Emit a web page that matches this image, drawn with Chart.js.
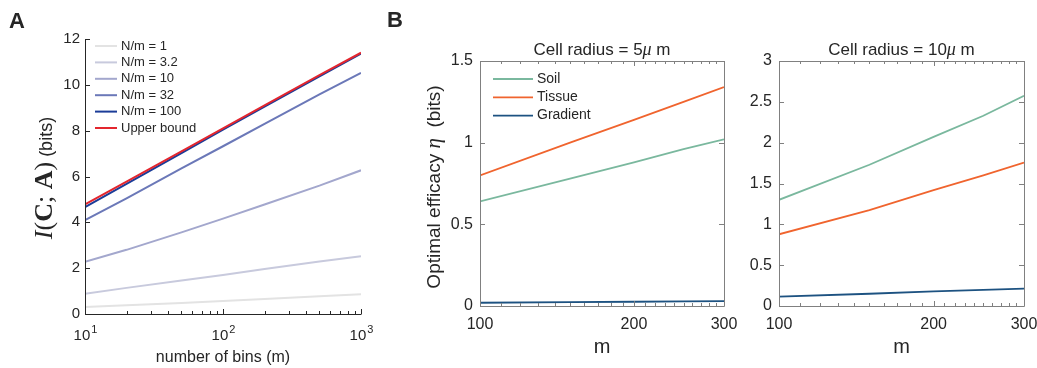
<!DOCTYPE html>
<html>
<head>
<meta charset="utf-8">
<script src="https://cdn.jsdelivr.net/npm/chart.js@4.4.0/dist/chart.umd.min.js"></script>
<style>
    body { margin: 0; background: #fff; }
    .panel { position: absolute; top: 0; height: 368px; }
</style>
</head>
<body>
<div class="panel" style="left:0;width:380px"><canvas id="chartA"></canvas></div>
<div class="panel" style="left:380px;width:360px"><canvas id="chartB1"></canvas></div>
<div class="panel" style="left:740px;width:297px"><canvas id="chartB2"></canvas></div>
<script>
// panel A: mutual information vs number of bins
var binsA = [10, 20, 50, 100, 200, 500, 1000];
var nm1 = [0.30, 0.38, 0.48, 0.57, 0.65, 0.77, 0.86];
var nm3 = [0.88, 1.14, 1.46, 1.70, 1.96, 2.29, 2.52];
var nm10 = [2.28, 2.80, 3.56, 4.16, 4.78, 5.60, 6.27];
var nm32 = [4.10, 5.05, 6.35, 7.32, 8.30, 9.58, 10.52];
var nm100 = [4.66, 5.68, 7.02, 8.04, 9.05, 10.37, 11.36];
var upperBound = [4.78, 5.78, 7.10, 8.10, 9.10, 10.42, 11.40];
var labelsA = ['N/m = 1', 'N/m = 3.2', 'N/m = 10', 'N/m = 32', 'N/m = 100', 'Upper bound'];
var ticksAx = [10, 20, 30, 40, 50, 60, 70, 80, 90, 100, 200, 300, 400, 500, 600, 700, 800, 900, 1000];
var majorAx = [10, 100, 1000];
var majorAxExp = ['1', '2', '3'];

// panel B: optimal efficacy vs m
var mB = [100, 150, 200, 250, 300];
var soil5 = [0.64, 0.78, 0.88, 0.96, 1.02];
var tissue5 = [0.80, 1.00, 1.14, 1.25, 1.34];
var gradient5 = [0.020, 0.024, 0.026, 0.028, 0.030];
var soil10 = [1.30, 1.73, 2.07, 2.33, 2.575];
var tissue10 = [0.878, 1.175, 1.42, 1.60, 1.755];
var gradient10 = [0.114, 0.150, 0.180, 0.197, 0.212];
var labelsB = ['Soil', 'Tissue', 'Gradient'];
var ticksBx = [100, 110, 120, 130, 140, 150, 160, 170, 180, 190, 200, 210, 220, 230, 240, 250, 260, 270, 280, 290, 300];
var majorBx = [100, 200, 300];

var sans = '"Liberation Sans", Arial, Helvetica, sans-serif';
var serif = '"Liberation Serif", "Times New Roman", serif';
var ink = '#262626';

Chart.defaults.font.family = sans;
Chart.defaults.color = ink;

function lineSet(label, xs, ys, color, width, order) {
    return {
        label: label,
        data: xs.map(function(x, i) { return {x: x, y: ys[i]}; }),
        borderColor: color,
        backgroundColor: color,
        borderWidth: width,
        pointRadius: 0,
        tension: 0,
        fill: false,
        order: order
    };
}

// ticks drawn inwards + axis lines, matlab style
var matlabAxes = {
    id: 'matlabAxes',
    afterDraw: function(chart, args, o) {
        var ctx = chart.ctx, a = chart.chartArea;
        var xs = chart.scales.x, ys = chart.scales.y;
        ctx.save();
        ctx.strokeStyle = o.color;
        ctx.lineWidth = 1;
        ctx.beginPath();
        ys.ticks.forEach(function(t) {
            var y = Math.round(ys.getPixelForValue(t.value)) + 0.5;
            ctx.moveTo(a.left, y); ctx.lineTo(a.left + 5, y);
            if (o.box) { ctx.moveTo(a.right, y); ctx.lineTo(a.right - 5, y); }
        });
        xs.ticks.forEach(function(t) {
            var len = o.majorX.indexOf(t.value) >= 0 ? 5 : 3;
            var x = Math.round(xs.getPixelForValue(t.value)) + 0.5;
            ctx.moveTo(x, a.bottom); ctx.lineTo(x, a.bottom - len);
            if (o.box) { ctx.moveTo(x, a.top); ctx.lineTo(x, a.top + len); }
        });
        var l = Math.round(a.left) + 0.5, b = Math.round(a.bottom) + 0.5;
        var r = Math.round(a.right) + 0.5, t = Math.round(a.top) + 0.5;
        ctx.moveTo(l, t); ctx.lineTo(l, b); ctx.lineTo(r, b);
        if (o.box) { ctx.lineTo(r, t); ctx.lineTo(l, t); }
        ctx.stroke();

        // power-of-ten labels (10 + raised exponent)
        if (o.expLabels) {
            ctx.fillStyle = ink;
            ctx.textBaseline = 'alphabetic';
            ctx.textAlign = 'left';
            o.majorX.forEach(function(v, k) {
                var x = xs.getPixelForValue(v);
                ctx.font = '15px ' + sans;
                var wb = ctx.measureText('10').width;
                ctx.font = '11px ' + sans;
                var we = ctx.measureText(o.expLabels[k]).width;
                var x0 = x - (wb + we) / 2;
                ctx.font = '15px ' + sans;
                ctx.fillText('10', x0, a.bottom + 26);
                ctx.font = '11px ' + sans;
                ctx.fillText(o.expLabels[k], x0 + wb + 1, a.bottom + 19);
            });
        }
        ctx.restore();
    }
};

var insideLegend = {
    id: 'insideLegend',
    afterDraw: function(chart, args, o) {
        if (!o.show) return;
        var ctx = chart.ctx;
        ctx.save();
        ctx.font = o.font;
        ctx.textBaseline = 'middle';
        ctx.textAlign = 'left';
        ctx.fillStyle = ink;
        chart.data.datasets.forEach(function(ds, i) {
            var y = o.y0 + i * o.dy;
            ctx.strokeStyle = ds.borderColor;
            ctx.lineWidth = ds.borderWidth;
            ctx.beginPath();
            ctx.moveTo(o.x0, y); ctx.lineTo(o.x1, y);
            ctx.stroke();
            ctx.fillText(ds.label, o.tx, y);
        });
        ctx.restore();
    }
};

// mixed-font labels (titles, axis names, panel letters)
var panelText = {
    id: 'panelText',
    afterDraw: function(chart, args, o) {
        var ctx = chart.ctx;
        (o.items || []).forEach(function(it) {
            ctx.save();
            ctx.translate(it.x, it.y);
            if (it.rot) ctx.rotate(it.rot);
            ctx.textBaseline = 'alphabetic';
            ctx.textAlign = 'left';
            ctx.fillStyle = ink;
            var w = 0;
            it.runs.forEach(function(r) { ctx.font = r.f; w += ctx.measureText(r.t).width; });
            var x = it.align === 'left' ? 0 : -w / 2;
            it.runs.forEach(function(r) {
                ctx.font = r.f;
                ctx.fillText(r.t, x, 0);
                x += ctx.measureText(r.t).width;
            });
            ctx.restore();
        });
    }
};

function xLog(min, max, ticks, major, fmt, pad, h, size) {
    return {
        type: 'logarithmic', min: min, max: max,
        grid: {display: false, drawTicks: false},
        border: {display: false},
        afterBuildTicks: function(s) { s.ticks = ticks.map(function(v) { return {value: v}; }); },
        afterFit: function(s) { s.height = h; s.paddingLeft = 0; s.paddingRight = 0; },
        ticks: {
            autoSkip: false, maxRotation: 0, padding: pad, color: ink,
            font: {size: size},
            callback: function(v) { var k = major.indexOf(v); return k >= 0 ? fmt(v, k) : ''; }
        }
    };
}

function yLin(max, step, pad, w, size) {
    return {
        type: 'linear', min: 0, max: max,
        grid: {display: false, drawTicks: false},
        border: {display: false},
        afterFit: function(s) { s.width = w; s.paddingTop = 0; s.paddingBottom = 0; },
        ticks: {
            stepSize: step, padding: pad, color: ink, font: {size: size},
            callback: function(v) { return String(Math.round(v * 100) / 100); }
        }
    };
}

// ---- panel A ----
var colorsA = ['#e3e3e3', '#c8cadd', '#a3a7cd', '#6b78b8', '#1b3c98', '#e3262e'];
var seriesA = [nm1, nm3, nm10, nm32, nm100, upperBound];

new Chart(document.getElementById('chartA'), {
    type: 'line',
    data: {
        datasets: seriesA.map(function(s, i) {
            return lineSet(labelsA[i], binsA, s, colorsA[i], 2, seriesA.length - i);
        })
    },
    options: {
        responsive: true, maintainAspectRatio: false, animation: false,
        layout: {padding: {left: 0, right: 19, top: 39, bottom: 0}},
        scales: {
            x: xLog(10, 1000, ticksAx, majorAx, function() { return ''; }, 9, 54, 14),
            y: yLin(12, 2, 5, 85, 15)
        },
        plugins: {
            legend: {display: false},
            tooltip: {enabled: false},
            matlabAxes: {color: ink, box: false, majorX: majorAx, expLabels: majorAxExp},
            insideLegend: {show: true, font: '13px ' + sans, x0: 95, x1: 117, tx: 121, y0: 46, dy: 16.4},
            panelText: {items: [
                {x: 9, y: 28, align: 'left', runs: [{t: 'A', f: 'bold 22px ' + sans}]},
                {x: 223, y: 362, runs: [{t: 'number of bins (m)', f: '16px ' + sans}]},
                {x: 52, y: 178, rot: -Math.PI / 2, runs: [
                    {t: 'I', f: 'italic 26px ' + serif},
                    {t: '(', f: '26px ' + serif},
                    {t: 'C', f: 'bold 26px ' + serif},
                    {t: '; ', f: '26px ' + serif},
                    {t: 'A', f: 'bold 26px ' + serif},
                    {t: ')', f: '26px ' + serif},
                    {t: ' (bits)', f: '18px ' + sans}
                ]}
            ]}
        }
    },
    plugins: [matlabAxes, insideLegend, panelText]
});

// ---- panel B ----
var colorsB = ['#7ab89e', '#f0642e', '#1d5281'];

function panelB(id, soil, tissue, grad, yMax, w, padRight, textItems, showLegend) {
    return new Chart(document.getElementById(id), {
        type: 'line',
        data: {
            datasets: [
                lineSet(labelsB[0], mB, soil, colorsB[0], 1.8, 3),
                lineSet(labelsB[1], mB, tissue, colorsB[1], 1.8, 2),
                lineSet(labelsB[2], mB, grad, colorsB[2], 1.8, 1)
            ]
        },
        options: {
            responsive: true, maintainAspectRatio: false, animation: false,
            layout: {padding: {left: 0, right: padRight, top: 61, bottom: 0}},
            scales: {
                x: xLog(100, 300, ticksBx, majorBx, function(v) { return String(v); }, 9, 62, 16),
                y: yLin(yMax, 0.5, 7, w, 16)
            },
            plugins: {
                legend: {display: false},
                tooltip: {enabled: false},
                matlabAxes: {color: '#808080', box: true, majorX: majorBx},
                insideLegend: {show: showLegend, font: '14px ' + sans, x0: 113, x1: 153, tx: 157, y0: 79, dy: 18.3},
                panelText: {items: textItems}
            }
        },
        plugins: [matlabAxes, insideLegend, panelText]
    });
}

panelB('chartB1', soil5, tissue5, gradient5, 1.5, 100, 16, [
    {x: 7, y: 27, align: 'left', runs: [{t: 'B', f: 'bold 22px ' + sans}]},
    {x: 222, y: 55, runs: [
        {t: 'Cell radius = 5', f: '17px ' + sans},
        {t: '\u03bc', f: 'italic 18px ' + serif},
        {t: ' m', f: '17px ' + sans}
    ]},
    {x: 222, y: 353, runs: [{t: 'm', f: '20px ' + sans}]},
    {x: 60, y: 187, rot: -Math.PI / 2, runs: [
        {t: 'Optimal efficacy ', f: '19px ' + sans},
        {t: '\u03b7', f: 'italic 21px ' + serif},
        {t: '  (bits)', f: '19px ' + sans}
    ]}
], true);

panelB('chartB2', soil10, tissue10, gradient10, 3, 39, 13, [
    {x: 161.5, y: 55, runs: [
        {t: 'Cell radius = 10', f: '17px ' + sans},
        {t: '\u03bc', f: 'italic 18px ' + serif},
        {t: ' m', f: '17px ' + sans}
    ]},
    {x: 161.5, y: 353, runs: [{t: 'm', f: '20px ' + sans}]}
], false);
</script>
</body>
</html>
